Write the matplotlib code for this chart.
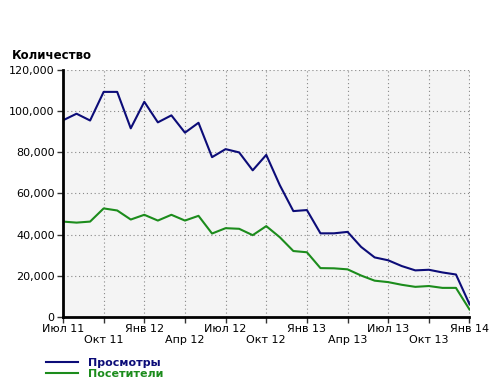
import matplotlib
matplotlib.use("Agg")
import matplotlib.pyplot as plt
import numpy as np
from matplotlib.ticker import FuncFormatter

# помесячные значения, июль 2011 - январь 2014
prosmotry = [95500, 98700, 95400, 109300, 109300, 91600, 104500, 94500, 97900, 89500,
             94300, 77600, 81500, 79900, 71200, 78700, 64000, 51400, 51900, 40600,
             40600, 41300, 34000, 28900, 27500, 24700, 22600, 22900, 21600, 20600, 6200]
posetiteli = [46300, 45800, 46300, 52700, 51700, 47300, 49600, 46800, 49600, 46800,
              49100, 40500, 43100, 42800, 39700, 44100, 38700, 32000, 31400, 23700,
              23600, 23100, 20100, 17600, 16900, 15600, 14600, 15000, 14100, 14100, 3600]
kvartaly = ["Июл 11", "Окт 11", "Янв 12", "Апр 12", "Июл 12", "Окт 12",
            "Янв 13", "Апр 13", "Июл 13", "Окт 13", "Янв 14"]

mesyacy = np.arange(len(prosmotry))

fig = plt.figure(figsize=(5.0, 3.86), dpi=100)
ax = fig.add_axes([0.126, 0.179, 0.813, 0.640])
ax.set_facecolor("#f4f4f4")

ax.plot(mesyacy, prosmotry, color="#0c0c78", lw=1.5, label="Просмотры")
ax.plot(mesyacy, posetiteli, color="#1c8c1c", lw=1.5, label="Посетители")

ax.set_xlim(0, len(prosmotry) - 1)
ax.set_ylim(0, 120000)
ax.set_yticks(np.arange(0, 120001, 20000))
ax.yaxis.set_major_formatter(FuncFormatter(lambda v, p: f"{int(v):,}"))

pos = np.arange(0, len(prosmotry), 3)
ax.set_xticks(pos)
ax.set_xticklabels([t if i % 2 == 0 else "\n" + t for i, t in enumerate(kvartaly)])

ax.grid(True, color="#888888", ls=(0, (1, 2.5)), lw=0.8)
for s in ["top", "right"]:
    ax.spines[s].set_visible(False)
for s in ["left", "bottom"]:
    ax.spines[s].set_linewidth(2)
ax.tick_params(axis="both", length=4, width=1, labelsize=8, pad=2, color="#333333")
ax.tick_params(axis="x", pad=1)

fig.text(0.024, 0.848, "Количество", fontsize=8.5, fontweight="bold")

leg = fig.legend(loc="upper left", bbox_to_anchor=(0.08, 0.088), frameon=False,
                 fontsize=8, handlelength=2.9, handletextpad=0.9, labelspacing=0.1,
                 borderpad=0)
for txt, line in zip(leg.get_texts(), leg.get_lines()):
    txt.set_color(line.get_color())
    txt.set_fontweight("bold")

fig.savefig("out.png", dpi=100)
